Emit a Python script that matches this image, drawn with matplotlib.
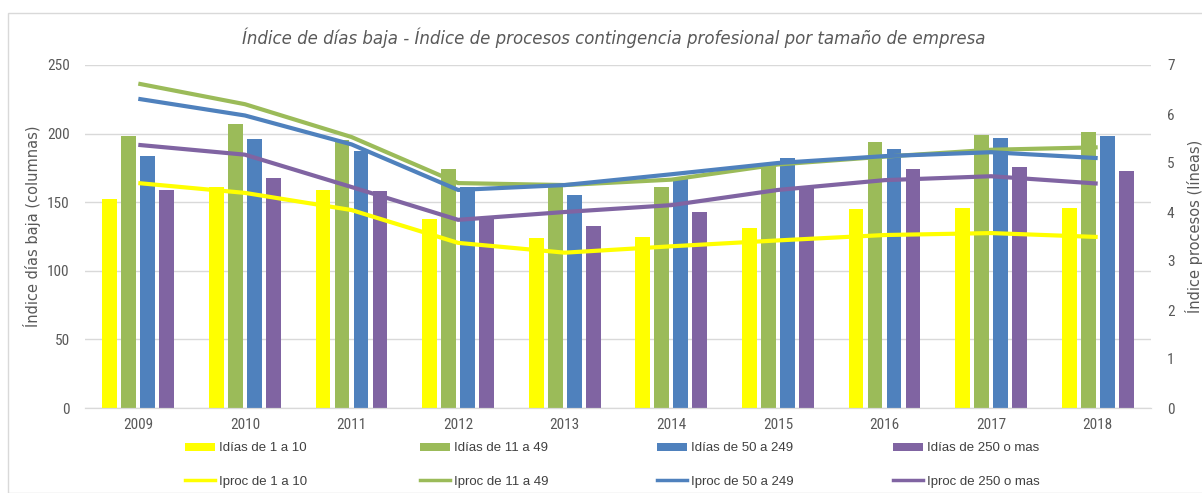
import numpy as np
import matplotlib
matplotlib.use("Agg")
import matplotlib.pyplot as plt
from matplotlib import font_manager
from matplotlib.patches import Rectangle, Patch
from matplotlib.lines import Line2D

years = ["2009", "2010", "2011", "2012", "2013", "2014", "2015", "2016", "2017", "2018"]

# indice dias baja (columnas)
dias_1_10 = [152, 161, 159, 138, 124, 125, 131, 145, 146, 146]
dias_11_49 = [198, 207, 195, 174, 162, 161, 178, 194, 199, 201]
dias_50_249 = [184, 196, 187, 161, 155, 167, 182, 189, 197, 198]
dias_250 = [159, 168, 158, 138, 133, 143, 161, 174, 176, 173]

# indice procesos (lineas)
proc_1_10 = [4.59, 4.39, 4.04, 3.37, 3.17, 3.30, 3.42, 3.53, 3.57, 3.49]
proc_11_49 = [6.62, 6.20, 5.53, 4.59, 4.55, 4.66, 4.97, 5.13, 5.27, 5.32]
proc_50_249 = [6.31, 5.97, 5.38, 4.45, 4.55, 4.77, 5.00, 5.14, 5.22, 5.10]
proc_250 = [5.37, 5.17, 4.51, 3.84, 4.00, 4.14, 4.45, 4.65, 4.73, 4.58]

bar_labels = ["Idías de 1 a 10", "Idías de 11 a 49", "Idías de 50 a 249", "Idías de 250 o mas"]
line_labels = ["Iproc de 1 a 10", "Iproc de 11 a 49", "Iproc de 50 a 249", "Iproc de 250 o mas"]
colors = ["#FFFF00", "#9BBB59", "#4F81BD", "#8064A2"]

# pick a condensed face if there is one, the reference ticks use a narrow font
installed = {f.name for f in font_manager.fontManager.ttflist}
narrow = "DejaVu Sans"
small = 9.5
for name in ["Liberation Sans Narrow", "DejaVu Sans Condensed", "Roboto Condensed"]:
    if name in installed:
        narrow = name
        small = 11
        break

grey = "#595959"
fig = plt.figure(figsize=(12.02, 4.93), dpi=100)
fig.patches.append(Rectangle((8 / 1202, 0), 1, 1 - 13 / 493, transform=fig.transFigure,
                             fill=False, edgecolor="#D9D9D9", linewidth=1))

ax = fig.add_axes([85 / 1202, 1 - 408 / 493, (1151 - 85) / 1202, (408 - 65) / 493])
ax2 = ax.twinx()

x = np.arange(len(years))
step = 0.178
width = 0.14
bars = [dias_1_10, dias_11_49, dias_50_249, dias_250]
for i, vals in enumerate(bars):
    ax.bar(x + (i - 1.5) * step, vals, width, color=colors[i], zorder=2)

lines = [proc_1_10, proc_11_49, proc_50_249, proc_250]
for i, vals in enumerate(lines):
    ax2.plot(x, vals, color=colors[i], linewidth=3, solid_capstyle="butt")

ax.set_xlim(-0.5, len(years) - 0.5)
ax.set_ylim(0, 250)
ax.set_yticks([0, 50, 100, 150, 200, 250])
ax2.set_ylim(0, 7)
ax2.set_yticks(range(8))
ax.set_xticks(x)
ax.set_xticklabels(years)
ax.grid(axis="y", color="#D9D9D9", linewidth=1, zorder=0)
ax.set_axisbelow(True)
for a in (ax, ax2):
    for s in ("top", "left", "right"):
        a.spines[s].set_visible(False)
    a.spines["bottom"].set_color("#D9D9D9")
    a.tick_params(length=0, labelcolor=grey, labelsize=small)
    for t in a.get_xticklabels() + a.get_yticklabels():
        t.set_family(narrow)
ax.tick_params(axis="y", pad=11)
ax.tick_params(axis="x", pad=7)
ax2.tick_params(axis="y", pad=11.5)

ax.set_ylabel("Índice días baja (columnas)", color=grey, fontsize=10.5)
ax2.set_ylabel("Índice procesos (líneas)", color=grey, fontsize=10.5)
ax.yaxis.set_label_coords(-0.041, 0.53)
ax2.yaxis.set_label_coords(1.032, 0.53)

fig.text(0.511, 1 - 38 / 493, "Índice de días baja - Índice de procesos contingencia profesional por tamaño de empresa",
         ha="center", va="center", fontsize=12, style="italic", color=grey)

# one small legend per column, to keep Excel's even column spacing
col_x = [185, 420, 657, 893]
for i in range(4):
    handles = [Patch(facecolor=colors[i]), Line2D([], [], color=colors[i], linewidth=2.5)]
    fig.legend(handles, [bar_labels[i], line_labels[i]], loc="center left",
               bbox_to_anchor=(col_x[i] / 1202, 1 - 465 / 493), borderaxespad=0, borderpad=0,
               frameon=False, labelcolor="#404040", handlelength=2.3,
               handletextpad=0.25, labelspacing=1.6, handleheight=0.6,
               prop={"family": "Liberation Sans", "size": 9.5})

fig.savefig("out.png", dpi=100)
